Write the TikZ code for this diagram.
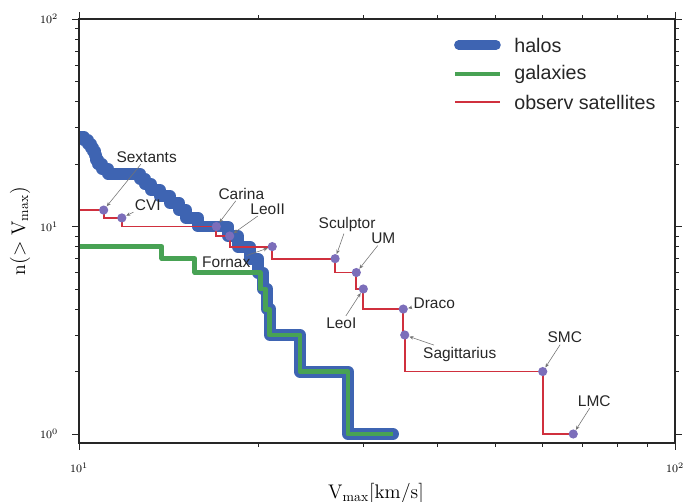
\documentclass[tikz,border=0pt]{standalone}
\usepackage{fontspec}
\newfontfamily\labelfont{Liberation Sans}
\usetikzlibrary{arrows.meta}

\definecolor{halocol}{RGB}{62,100,178}
\definecolor{galcol}{RGB}{72,162,84}
\definecolor{obscol}{RGB}{208,48,62}
\definecolor{satcol}{RGB}{124,110,186}

\tikzset{
  halo/.style={halocol, line width=6.5pt, line join=round, line cap=round},
  gal/.style={galcol, line width=3.5pt, line join=round},
  obs/.style={obscol, line width=1.3pt},
  sat/.style={circle, fill=satcol, inner sep=0pt, minimum size=0.23cm},
  satname/.style={font=\labelfont\fontsize{11}{13}\selectfont, text=black!85, inner sep=1pt},
  pointer/.style={-{Stealth[length=3pt,width=2.5pt]}, black!55, line width=0.4pt},
  axisline/.style={black!85, line width=0.9pt},
  tick/.style={black!85, line width=0.6pt},
  ticklabel/.style={font=\footnotesize, inner sep=0pt},
  legname/.style={font=\labelfont\fontsize{14}{16}\selectfont, text=black!85, anchor=west, inner sep=0pt}
}

\begin{document}
\begin{tikzpicture}[x=14.9cm, y=5.1875cm]
  \useasboundingbox (0.86745,-0.3277) rectangle (2.01678,2.0916);

  % curves, in log10 of V and n
  \begin{scope}
    \clip (1,-0.0434) rectangle (2,2);
    \draw[halo, line width=8.5pt] ({log10(10)},{log10(27)})
      \foreach \v/\n in {10.19/26, 10.35/25, 10.47/24, 10.56/23, 10.64/22, 10.68/21,
        10.76/20, 10.93/19, 11.19/18, 12.66/17, 12.90/16, 13.21/15, 13.67/14,
        14.21/13, 14.72/12, 15.12/11, 15.84/10, 17.78/9, 18.48/8, 19.36/7,
        19.97/6, 20.36/5, 20.68/4, 20.92/3, 23.49/2, 28.27/1}
      { -| ({log10(\v)},{log10(\n)}) } -- ({log10(33.64)},0);
    \draw[gal] ({log10(10)},{log10(8)})
      \foreach \v/\n in {13.78/7, 15.65/6, 20.13/5, 20.52/4, 20.84/3, 23.49/2, 28.27/1}
      { -| ({log10(\v)},{log10(\n)}) } -- ({log10(33.64)},0);
    \draw[obs] ({log10(10)},{log10(12)})
      \foreach \v/\n in {11/11, 11.8/10, 17/9, 17.9/8, 21.1/7, 26.9/6, 29.2/5,
        30/4, 35/3, 35.2/2, 60/1}
      { -| ({log10(\v)},{log10(\n)}) } -- ({log10(67.5)},0);
  \end{scope}

  % axes and ticks
  \draw[axisline] (1,-0.0434) rectangle (2,2);
  \foreach \m in {2,...,9} {
    \draw[tick] ({1+log10(\m)},-0.0434) -- ++(0,-0.1cm);
    \draw[tick] ({1+log10(\m)},2) -- ++(0,0.1cm);
  }
  \foreach \d in {0,1} \foreach \m in {2,...,9} {
    \draw[tick] (1,{\d+log10(\m)}) -- ++(-0.1cm,0);
    \draw[tick] (2,{\d+log10(\m)}) -- ++(0.1cm,0);
  }
  \foreach \d in {0,1,2} {
    \draw[tick] (1,\d) -- ++(-0.175cm,0);
    \draw[tick] (2,\d) -- ++(0.175cm,0);
    \node[ticklabel, anchor=east] (ylab\d) at ([xshift=-0.52cm]1,\d) {$10^{\d}$};
  }
  \foreach \d in {1,2} {
    \draw[tick] (\d,-0.0434) -- ++(0,-0.175cm);
    \draw[tick] (\d,2) -- ++(0,0.175cm);
    \node[ticklabel] (xlab\d) at ([yshift=-0.625cm]\d,-0.0434) {$10^{\d}$};
  }
  \node[font=\fontsize{14}{16}\selectfont] (xname) at (1.4983,-0.2843) {$\mathrm{V_{max}[km/s]}$};
  \node[font=\fontsize{14}{16}\selectfont, rotate=90] (yname) at (0.901,0.978) {$\mathrm{n(>V_{max})}$};

  % satellites
  \foreach \s/\v/\n/\dx/\dy/\txt in {
      sextans/11/12/1.075/1.325/Sextants, cvi/11.8/11/0.65/0.325/CVI,
      carina/17/10/0.625/0.825/Carina, leoii/17.9/9/0.95/0.675/LeoII,
      fornax/21.1/8/-1.15/-0.4/Fornax, sculptor/26.9/7/0.3/0.85/Sculptor,
      um/29.2/6/0.675/0.85/UM, leoi/30/5/-0.55/-0.85/LeoI,
      draco/35/4/0.775/0.15/Draco, sagittarius/35.2/3/1.375/-0.475/Sagittarius,
      smc/60/2/0.55/0.85/SMC, lmc/67.5/1/0.525/0.825/LMC} {
    \node[sat] (\s) at ({log10(\v)},{log10(\n)}) {};
    \node[satname] (\s-name) at ([shift={(\dx cm,\dy cm)}]\s) {\txt};
    \draw[pointer] (\s-name) -- (\s);
  }

  % legend
  \draw[halo] (1.637,1.8747) -- (1.700,1.8747);
  \draw[gal] (1.6309,1.7349) -- (1.7064,1.7349);
  \draw[obs] (1.6309,1.6) -- (1.7064,1.6);
  \node[legname] (halokey) at (1.7299,1.8747) {halos};
  \node[legname] (galkey) at (1.7299,1.7349) {galaxies};
  \node[legname] (obskey) at (1.7299,1.6) {observ satellites};
\end{tikzpicture}
\end{document}
